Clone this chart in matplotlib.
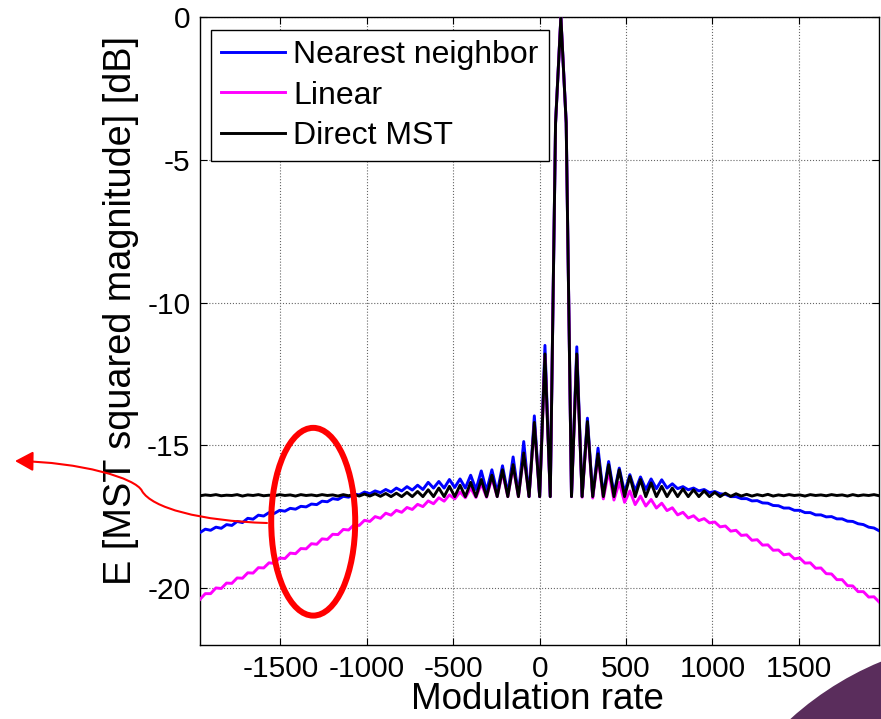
import numpy as np
import matplotlib
matplotlib.use('Agg')
import matplotlib.pyplot as plt
from matplotlib.patches import Ellipse, Circle, FancyArrowPatch
from matplotlib.path import Path

plt.rcParams['font.family'] = ['Liberation Sans', 'DejaVu Sans']
plt.rcParams['axes.unicode_minus'] = False

# ---------------- data ----------------
rate = np.linspace(-1965, 1965, 129)   # modulation-rate sample grid

nearest = [
    -18.06, -17.94, -17.98, -17.87, -17.91, -17.78, -17.81, -17.67, -17.71, -17.56,
    -17.59, -17.45, -17.48, -17.36, -17.39, -17.28, -17.31, -17.21, -17.24, -17.14,
    -17.16, -17.06, -17.08, -16.96, -16.98, -16.87, -16.90, -16.79, -16.82, -16.71,
    -16.74, -16.64, -16.70, -16.60, -16.66, -16.55, -16.64, -16.50, -16.60, -16.45,
    -16.57, -16.40, -16.55, -16.30, -16.50, -16.27, -16.50, -16.20, -16.48, -16.18,
    -16.50, -16.05, -16.55, -15.90, -16.60, -15.86, -16.65, -15.72, -16.70, -15.41,
    -16.75, -14.87, -16.80, -13.97, -16.80, -11.50, -16.80, -3.70,
    0.0,
    -3.70, -16.80, -11.55, -16.80, -14.05, -16.80, -15.10, -16.75, -15.57, -16.70,
    -15.80, -16.65, -16.03, -16.60, -16.11, -16.55, -16.18, -16.52, -16.21, -16.50,
    -16.35, -16.52, -16.45, -16.56, -16.50, -16.60, -16.55, -16.66, -16.62, -16.70,
    -16.72, -16.80, -16.80, -16.87, -16.87, -16.95, -16.94, -17.02, -17.03, -17.11,
    -17.12, -17.20, -17.20, -17.28, -17.28, -17.36, -17.36, -17.44, -17.44, -17.51,
    -17.50, -17.58, -17.58, -17.66, -17.67, -17.75, -17.78, -17.87, -17.90, -18.00,
]

linear = [
    -20.40, -20.20, -20.20, -20.00, -20.02, -19.83, -19.84, -19.65, -19.66, -19.47,
    -19.48, -19.29, -19.30, -19.12, -19.14, -18.95, -18.97, -18.78, -18.80, -18.62,
    -18.63, -18.45, -18.47, -18.28, -18.30, -18.12, -18.13, -17.95, -17.97, -17.79,
    -17.81, -17.63, -17.67, -17.50, -17.56, -17.38, -17.45, -17.28, -17.35, -17.18,
    -17.25, -17.07, -17.15, -16.95, -17.05, -16.84, -16.96, -16.74, -16.88, -16.64,
    -16.84, -16.50, -16.83, -16.35, -16.82, -16.15, -16.80, -15.95, -16.80, -15.74,
    -16.80, -15.30, -16.80, -14.25, -16.80, -11.85, -16.80, -3.70,
    0.0,
    -3.70, -16.80, -11.85, -16.82, -14.25, -16.85, -15.40, -16.88, -15.90, -16.92,
    -16.30, -17.00, -16.60, -17.08, -16.78, -17.13, -16.90, -17.20, -17.03, -17.29,
    -17.19, -17.44, -17.35, -17.55, -17.47, -17.64, -17.57, -17.72, -17.69, -17.86,
    -17.83, -18.01, -17.98, -18.16, -18.14, -18.33, -18.31, -18.50, -18.49, -18.68,
    -18.67, -18.84, -18.81, -18.98, -18.95, -19.13, -19.12, -19.31, -19.30, -19.50,
    -19.51, -19.71, -19.71, -19.92, -19.93, -20.13, -20.13, -20.32, -20.31, -20.50,
]

direct = [
    -16.77, -16.74, -16.76, -16.73, -16.77, -16.75, -16.76, -16.73, -16.78, -16.74,
    -16.76, -16.73, -16.77, -16.75, -16.77, -16.73, -16.76, -16.74, -16.78, -16.73,
    -16.76, -16.74, -16.77, -16.73, -16.76, -16.74, -16.78, -16.73, -16.77, -16.72,
    -16.78, -16.71, -16.78, -16.70, -16.79, -16.69, -16.80, -16.68, -16.80, -16.65,
    -16.80, -16.62, -16.80, -16.56, -16.80, -16.50, -16.80, -16.44, -16.80, -16.40,
    -16.80, -16.30, -16.80, -16.20, -16.80, -16.05, -16.80, -15.86, -16.80, -15.68,
    -16.80, -15.27, -16.80, -14.20, -16.80, -11.80, -16.80, -3.70,
    0.0,
    -3.70, -16.80, -11.80, -16.80, -14.17, -16.80, -15.30, -16.80, -15.68, -16.80,
    -15.86, -16.80, -16.09, -16.80, -16.20, -16.80, -16.32, -16.80, -16.44, -16.80,
    -16.50, -16.80, -16.53, -16.80, -16.56, -16.80, -16.60, -16.80, -16.65, -16.80,
    -16.68, -16.79, -16.70, -16.78, -16.72, -16.78, -16.73, -16.77, -16.72, -16.78,
    -16.74, -16.77, -16.73, -16.76, -16.74, -16.78, -16.73, -16.76, -16.74, -16.77,
    -16.73, -16.76, -16.74, -16.78, -16.73, -16.77, -16.74, -16.76, -16.73, -16.77,
]

series_labels = ['Nearest neighbor', 'Linear', 'Direct MST']
series_colors = ['#0000ff', '#ff00ff', '#000000']
xticks = [-1500, -1000, -500, 0, 500, 1000, 1500]
yticks = [-20, -15, -10, -5, 0]

# highlighted region (ellipse) in data units
ell_center = (-1310, -17.68)
ell_size = (486, 6.58)

# ---------------- figure ----------------
W, H = 881, 719
fig = plt.figure(figsize=(W / 100, H / 100), dpi=100)

# slide decoration in the bottom-right corner
deco = Circle((10.0, -2.31), 3.12, transform=fig.dpi_scale_trans,
              facecolor='#5a2d5c', edgecolor='none', zorder=0)
fig.add_artist(deco)

ax = fig.add_axes([200 / W, 1 - 645 / H, 679.3 / W, 627.75 / H])

for ys, lab, col in zip([nearest, linear, direct], series_labels, series_colors):
    ax.plot(rate, ys, color=col, lw=2.1, label=lab, zorder=3)

ax.set_xlim(-1965, 1965)
ax.set_ylim(-22, 0)
ax.set_xticks(xticks)
ax.set_yticks(yticks)
ax.grid(True, linestyle=':', color='0.4', linewidth=0.8)
ax.tick_params(direction='in', length=5, width=0.8, top=True, right=True,
               labelsize=21.5)
ax.tick_params(axis='x', pad=7)
ax.tick_params(axis='y', pad=7)
for sp in ax.spines.values():
    sp.set_linewidth(1.0)
    sp.set_color('black')

ax.set_xlabel('Modulation rate', fontsize=26.5)
ax.xaxis.label.set_va('center')
ax.xaxis.set_label_coords(0.497, -0.0876)
ax.set_ylabel('E [MST squared magnitude] [dB]', fontsize=27.3)
ax.yaxis.label.set_va('center')
ax.yaxis.set_label_coords(-0.117, 0.533)

leg = ax.legend(loc='upper left', bbox_to_anchor=(0.0157, 0.98), borderaxespad=0,
                fontsize=23, frameon=True, fancybox=False, framealpha=1,
                edgecolor='black', handlelength=2.0, handletextpad=0.25,
                borderpad=0.33, labelspacing=0.32)
leg.get_frame().set_linewidth(1.0)
leg.set_zorder(6)

ell = Ellipse(ell_center, ell_size[0], ell_size[1], fill=False,
              edgecolor='#ff0000', linewidth=4.3, zorder=5)
ax.add_patch(ell)

# curved arrow pointing out of the plot (figure pixel coordinates, y from top)
arrow_px = [(267, 523), (200, 521), (152, 508), (142, 491),
            (136, 478), (80, 462), (15, 461)]
verts = [(x / W, 1 - y / H) for x, y in arrow_px]
codes = [Path.MOVETO] + [Path.CURVE4] * 6
arrow = FancyArrowPatch(path=Path(verts, codes),
                        arrowstyle='-|>,head_length=0.55,head_width=0.3',
                        mutation_scale=20, color='#ff0000', linewidth=1.5,
                        transform=fig.transFigure, zorder=7)
fig.add_artist(arrow)

fig.savefig('out.png', dpi=100)
